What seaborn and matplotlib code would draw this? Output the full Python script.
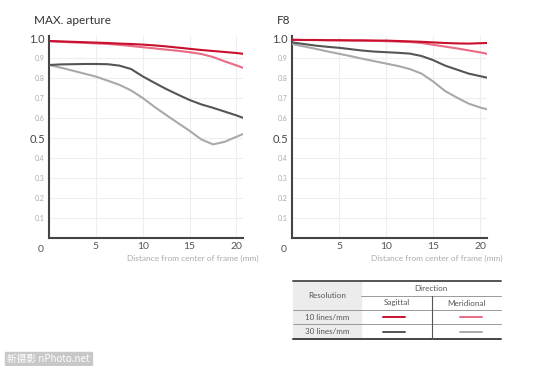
import matplotlib
matplotlib.use("Agg")
import matplotlib.pyplot as plt
import seaborn as sns
import pandas as pd
from matplotlib.patches import Rectangle

# ---------------- data ----------------
x_mm = [0, 1.25, 2.5, 3.75, 5, 6.25, 7.5, 8.75, 10, 11.25, 12.5, 13.75, 15, 16.25,
        17.5, 18.75, 20, 20.7]

max_s10 = [0.985, 0.983, 0.981, 0.979, 0.977, 0.975, 0.972, 0.970, 0.967, 0.963, 0.958,
           0.952, 0.946, 0.940, 0.935, 0.930, 0.925, 0.921]
max_m10 = [0.984, 0.981, 0.978, 0.976, 0.973, 0.970, 0.966, 0.960, 0.954, 0.948, 0.942,
           0.936, 0.929, 0.920, 0.905, 0.883, 0.863, 0.851]
max_s30 = [0.865, 0.868, 0.869, 0.870, 0.870, 0.869, 0.862, 0.845, 0.808, 0.776, 0.745,
           0.717, 0.690, 0.668, 0.651, 0.632, 0.613, 0.601]
max_m30 = [0.865, 0.852, 0.837, 0.822, 0.807, 0.787, 0.766, 0.738, 0.700, 0.656, 0.615,
           0.575, 0.536, 0.493, 0.468, 0.481, 0.506, 0.520]

f8_s10 = [0.991, 0.990, 0.990, 0.989, 0.989, 0.988, 0.988, 0.987, 0.987, 0.985, 0.983,
          0.981, 0.978, 0.975, 0.973, 0.972, 0.974, 0.975]
f8_m10 = [0.991, 0.990, 0.990, 0.989, 0.988, 0.988, 0.987, 0.986, 0.984, 0.982, 0.980,
          0.975, 0.966, 0.957, 0.948, 0.938, 0.928, 0.921]
f8_s30 = [0.978, 0.970, 0.962, 0.956, 0.951, 0.944, 0.937, 0.932, 0.929, 0.926, 0.922,
          0.910, 0.889, 0.862, 0.842, 0.822, 0.809, 0.802]
f8_m30 = [0.970, 0.958, 0.946, 0.933, 0.921, 0.909, 0.896, 0.884, 0.872, 0.860, 0.845,
          0.822, 0.782, 0.735, 0.702, 0.672, 0.652, 0.644]

panel_titles = ["MAX. aperture", "F8"]
series_names = ["S10", "M10", "S30", "M30"]
x_ticks = [5, 10, 15, 20]
y_ticks = [0.1, 0.2, 0.3, 0.4, 0.5, 0.6, 0.7, 0.8, 0.9, 1.0]
x_label = "Distance from center of frame (mm)"
table_res = ["10 lines/mm", "30 lines/mm"]

colors = {"S10": "#c8102e", "M10": "#e96b86", "S30": "#555555", "M30": "#a9a9a9"}
draw_order = ["M30", "S30", "M10", "S10"]

def long_df(vals):
    rows = []
    for name, v in zip(series_names, vals):
        for xx, yy in zip(x_mm, v):
            rows.append({"x": xx, "y": yy, "series": name})
    return pd.DataFrame(rows)

df_max = long_df([max_s10, max_m10, max_s30, max_m30])
df_f8 = long_df([f8_s10, f8_m10, f8_s30, f8_m30])

# ---------------- figure ----------------
sns.set_theme(style="white")
plt.rcParams["font.family"] = ["Lato", "DejaVu Sans"]

W, H = 550, 366
fig = plt.figure(figsize=(5.5, 3.66), dpi=100)

def px_axes(x0, x1, ytop, ybot):
    return fig.add_axes([x0 / W, (H - ybot) / H, (x1 - x0) / W, (ybot - ytop) / H])

ax_l = px_axes(49, 243, 36, 238)
ax_r = px_axes(292, 487, 36, 238)

for ax, df, title, tx in [(ax_l, df_max, panel_titles[0], 34), (ax_r, df_f8, panel_titles[1], 277)]:
    for xv in x_ticks:
        ax.axvline(xv, color="#eeeeee", lw=0.8, zorder=0)
    for yv in y_ticks[:-1]:
        ax.axhline(yv, color="#eeeeee", lw=0.8, zorder=0)
    sns.lineplot(data=df, x="x", y="y", hue="series", palette=colors,
                 hue_order=draw_order, lw=1.5, ax=ax, legend=False, zorder=3)
    ax.set_xlim(0, 20.7)
    ax.set_ylim(0, 1.01)
    ax.set_xticks(x_ticks)
    ax.set_xticklabels([str(v) for v in x_ticks], fontsize=7.5, color="#555555")
    ax.set_yticks(y_ticks)
    ax.set_yticklabels([f"{v:.1f}" for v in y_ticks])
    for lab, v in zip(ax.get_yticklabels(), y_ticks):
        if abs(v - 1.0) < 1e-6 or abs(v - 0.5) < 1e-6:
            lab.set_fontsize(8)
            lab.set_color("#444444")
        else:
            lab.set_fontsize(5)
            lab.set_color("#aaaaaa")
    ax.tick_params(axis="both", length=0, pad=3)
    ax.set_xlabel("")
    ax.set_ylabel("")
    for s in ["top", "right"]:
        ax.spines[s].set_visible(False)
    for s in ["left", "bottom"]:
        ax.spines[s].set_color("#444444")
        ax.spines[s].set_linewidth(1.5)
    ax.annotate("0", xy=(0, 0), xycoords="data", xytext=(-6, -8),
                textcoords="offset points", fontsize=7.5, color="#555555",
                ha="center", va="center")
    ax.text(1.08, -0.1, x_label, transform=ax.transAxes, ha="right", va="center",
            fontsize=6, color="#aaaaaa")
    fig.text(tx / W, 1 - 21 / H, title, fontsize=8.5, color="#333333",
             ha="left", va="center")

# ---------------- table ----------------
tab = fig.add_axes([0, 0, 1, 1], zorder=5)
tab.set_xlim(0, W)
tab.set_ylim(H, 0)
tab.axis("off")
tab.patch.set_alpha(0)

L, R, C1, C2 = 293, 501, 361, 432
y_top, y_h1, y_h2, y_r1, y_bot = 281, 296, 310, 324, 339
tab.add_patch(Rectangle((L, y_top), C1 - L, y_bot - y_top, color="#ececec", zorder=0))
tab.plot([L, R], [y_top, y_top], color="#555555", lw=1.4)
tab.plot([L, R], [y_bot, y_bot], color="#444444", lw=1.4)
tab.plot([C1, R], [y_h1, y_h1], color="#999999", lw=0.7)
tab.plot([L, R], [y_h2, y_h2], color="#999999", lw=0.7)
tab.plot([L, R], [y_r1, y_r1], color="#999999", lw=0.7)
tab.plot([C2, C2], [y_h1, y_bot], color="#555555", lw=0.8)

tfs = 5.8
tcol = "#555555"
tab.text((L + C1) / 2, (y_top + y_h2) / 2, "Resolution", ha="center", va="center", fontsize=tfs, color=tcol)
tab.text((C1 + R) / 2, (y_top + y_h1) / 2, "Direction", ha="center", va="center", fontsize=tfs, color=tcol)
tab.text((C1 + C2) / 2, (y_h1 + y_h2) / 2, "Sagittal", ha="center", va="center", fontsize=tfs, color=tcol)
tab.text((C2 + R) / 2, (y_h1 + y_h2) / 2, "Meridional", ha="center", va="center", fontsize=tfs, color=tcol)
tab.text((L + C1) / 2, (y_h2 + y_r1) / 2, table_res[0], ha="center", va="center", fontsize=tfs, color=tcol)
tab.text((L + C1) / 2, (y_r1 + y_bot) / 2, table_res[1], ha="center", va="center", fontsize=tfs, color=tcol)

for yc, (sa, me) in [((y_h2 + y_r1) / 2, ("S10", "M10")), ((y_r1 + y_bot) / 2, ("S30", "M30"))]:
    tab.plot([383, 405], [yc, yc], color=colors[sa], lw=1.4)
    tab.plot([460, 482], [yc, yc], color=colors[me], lw=1.4)

# watermark
tab.add_patch(Rectangle((5, 352), 87, 13, color="#c8c8c8", zorder=0))
tab.text(48, 358.5, "新摄影 nPhoto.net", ha="center", va="center", fontsize=7,
         color="white", family=["Noto Sans CJK SC", "DejaVu Sans"])

fig.savefig("out.png", dpi=100)
